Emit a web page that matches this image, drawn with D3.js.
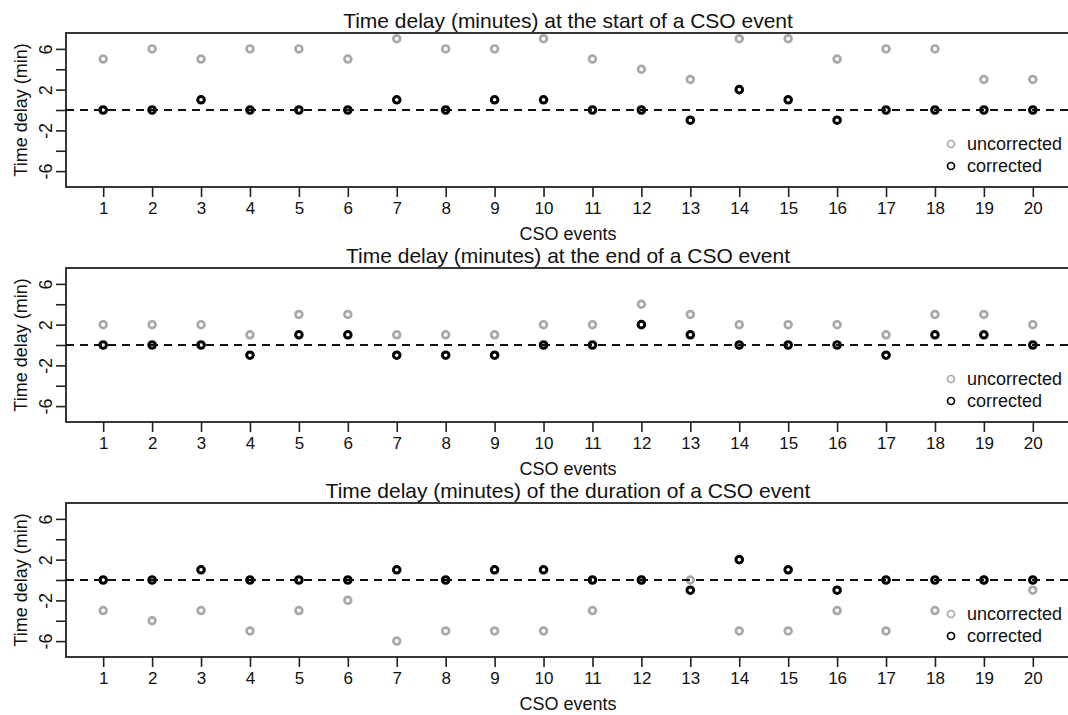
<!DOCTYPE html>
<html>
<head>
<meta charset="utf-8">
<script src="https://cdn.jsdelivr.net/npm/d3@7"></script>
<style>
  body { margin: 0; background: #fff; }
  text { font-family: "Liberation Sans", Arial, sans-serif; fill: #111; }
</style>
</head>
<body>
<div id="chart"></div>
<script>
// events 1..20
var events = d3.range(1, 21);

// start of a CSO event
var startUncorr = [5, 6, 5, 6, 6, 5, 7, 6, 6, 7, 5, 4, 3, 7, 7, 5, 6, 6, 3, 3];
var startCorr   = [0, 0, 1, 0, 0, 0, 1, 0, 1, 1, 0, 0, -1, 2, 1, -1, 0, 0, 0, 0];

// end of a CSO event
var endUncorr = [2, 2, 2, 1, 3, 3, 1, 1, 1, 2, 2, 4, 3, 2, 2, 2, 1, 3, 3, 2];
var endCorr   = [0, 0, 0, -1, 1, 1, -1, -1, -1, 0, 0, 2, 1, 0, 0, 0, -1, 1, 1, 0];

// duration of a CSO event
var durUncorr = [-3, -4, -3, -5, -3, -2, -6, -5, -5, -5, -3, 0, 0, -5, -5, -3, -5, -3, 0, -1];
var durCorr   = [0, 0, 1, 0, 0, 0, 1, 0, 1, 1, 0, 0, -1, 2, 1, -1, 0, 0, 0, 0];

var yTicks = [-6, -4, -2, 0, 2, 4, 6];
var yLabels = [-6, -2, 2, 6];
var titles = [
  "Time delay (minutes) at the start of a CSO event",
  "Time delay (minutes) at the end of a CSO event",
  "Time delay (minutes) of the duration of a CSO event"
];
var legendNames = ["uncorrected", "corrected"];

var width = 1068, height = 715;
var grey = "#a8a8a8", black = "#000";

var svg = d3.select("#chart").append("svg")
    .attr("width", width).attr("height", height);

// x scale is shared, R style 4% padding (right edge runs off the page like the original)
var x = d3.scaleLinear().domain([0.24, 20.76]).range([66, 1070]);

var panels = [
  {title: titles[0], u: startUncorr, c: startCorr, top: 33},
  {title: titles[1], u: endUncorr, c: endCorr, top: 268},
  {title: titles[2], u: durUncorr, c: durCorr, top: 503}
];
var ph = 154;

panels.forEach(function(p) {
  var y = d3.scaleLinear().domain([-7.56, 7.56]).range([p.top + ph, p.top]);
  var g = svg.append("g");

  // box
  g.append("rect")
    .attr("x", x.range()[0]).attr("y", p.top)
    .attr("width", x.range()[1] - x.range()[0]).attr("height", ph)
    .attr("fill", "none").attr("stroke", "#222").attr("stroke-width", 1.8);

  // x axis
  var xa = g.append("g").attr("transform", "translate(0," + (p.top + ph) + ")")
    .call(d3.axisBottom(x).tickValues(events).tickSize(10).tickPadding(5).tickFormat(d3.format("d")));
  xa.select(".domain").remove();
  xa.selectAll(".tick line").attr("stroke", "#222").attr("stroke-width", 1.6);
  xa.selectAll(".tick text").attr("font-size", 17).attr("fill", "#111")
    .attr("font-family", "Liberation Sans, Arial, sans-serif");

  // y axis, labels rotated like base R
  var ya = g.append("g").attr("transform", "translate(" + x.range()[0] + ",0)")
    .call(d3.axisLeft(y).tickValues(yTicks).tickSize(10)
      .tickFormat(function(d) { return yLabels.indexOf(d) >= 0 ? d : ""; }));
  ya.select(".domain").remove();
  ya.selectAll(".tick line").attr("stroke", "#222").attr("stroke-width", 1.6);
  ya.selectAll(".tick text")
    .attr("x", 0).attr("y", -14).attr("dy", null)
    .attr("transform", "rotate(-90)")
    .attr("text-anchor", "middle")
    .attr("font-size", 18).attr("fill", "#111")
    .attr("font-family", "Liberation Sans, Arial, sans-serif");

  // labels
  g.append("text")
    .attr("transform", "translate(27," + (p.top + ph / 2) + ") rotate(-90)")
    .attr("text-anchor", "middle").attr("font-size", 18)
    .text("Time delay (min)");
  g.append("text")
    .attr("x", (x.range()[0] + x.range()[1]) / 2).attr("y", p.top + ph + 53)
    .attr("text-anchor", "middle").attr("font-size", 18)
    .text("CSO events");
  g.append("text")
    .attr("x", (x.range()[0] + x.range()[1]) / 2).attr("y", p.top - 5)
    .attr("text-anchor", "middle").attr("font-size", 21)
    .text(p.title);

  // points
  g.selectAll(".u").data(p.u).enter().append("circle")
    .attr("cx", function(d, i) { return x(events[i]); })
    .attr("cy", function(d) { return y(d); })
    .attr("r", 3.4).attr("fill", "none")
    .attr("stroke", grey).attr("stroke-width", 2.7);
  g.selectAll(".c").data(p.c).enter().append("circle")
    .attr("cx", function(d, i) { return x(events[i]); })
    .attr("cy", function(d) { return y(d); })
    .attr("r", 3.3).attr("fill", "none")
    .attr("stroke", black).attr("stroke-width", 3);

  // zero line
  g.append("line")
    .attr("x1", x.range()[0]).attr("x2", x.range()[1])
    .attr("y1", y(0)).attr("y2", y(0))
    .attr("stroke", "#111").attr("stroke-width", 2)
    .attr("stroke-dasharray", "8,6");

  // legend
  var leg = g.selectAll(".leg").data(legendNames).enter().append("g")
    .attr("transform", function(d, i) { return "translate(951," + (p.top + 111 + i * 22) + ")"; });
  leg.append("circle").attr("r", 3.5).attr("fill", "none")
    .attr("stroke", function(d, i) { return i == 0 ? grey : black; })
    .attr("stroke-width", 1.7);
  leg.append("text").attr("x", 16).attr("dy", "0.35em")
    .attr("font-size", 18).text(function(d) { return d; });
});
</script>
</body>
</html>
